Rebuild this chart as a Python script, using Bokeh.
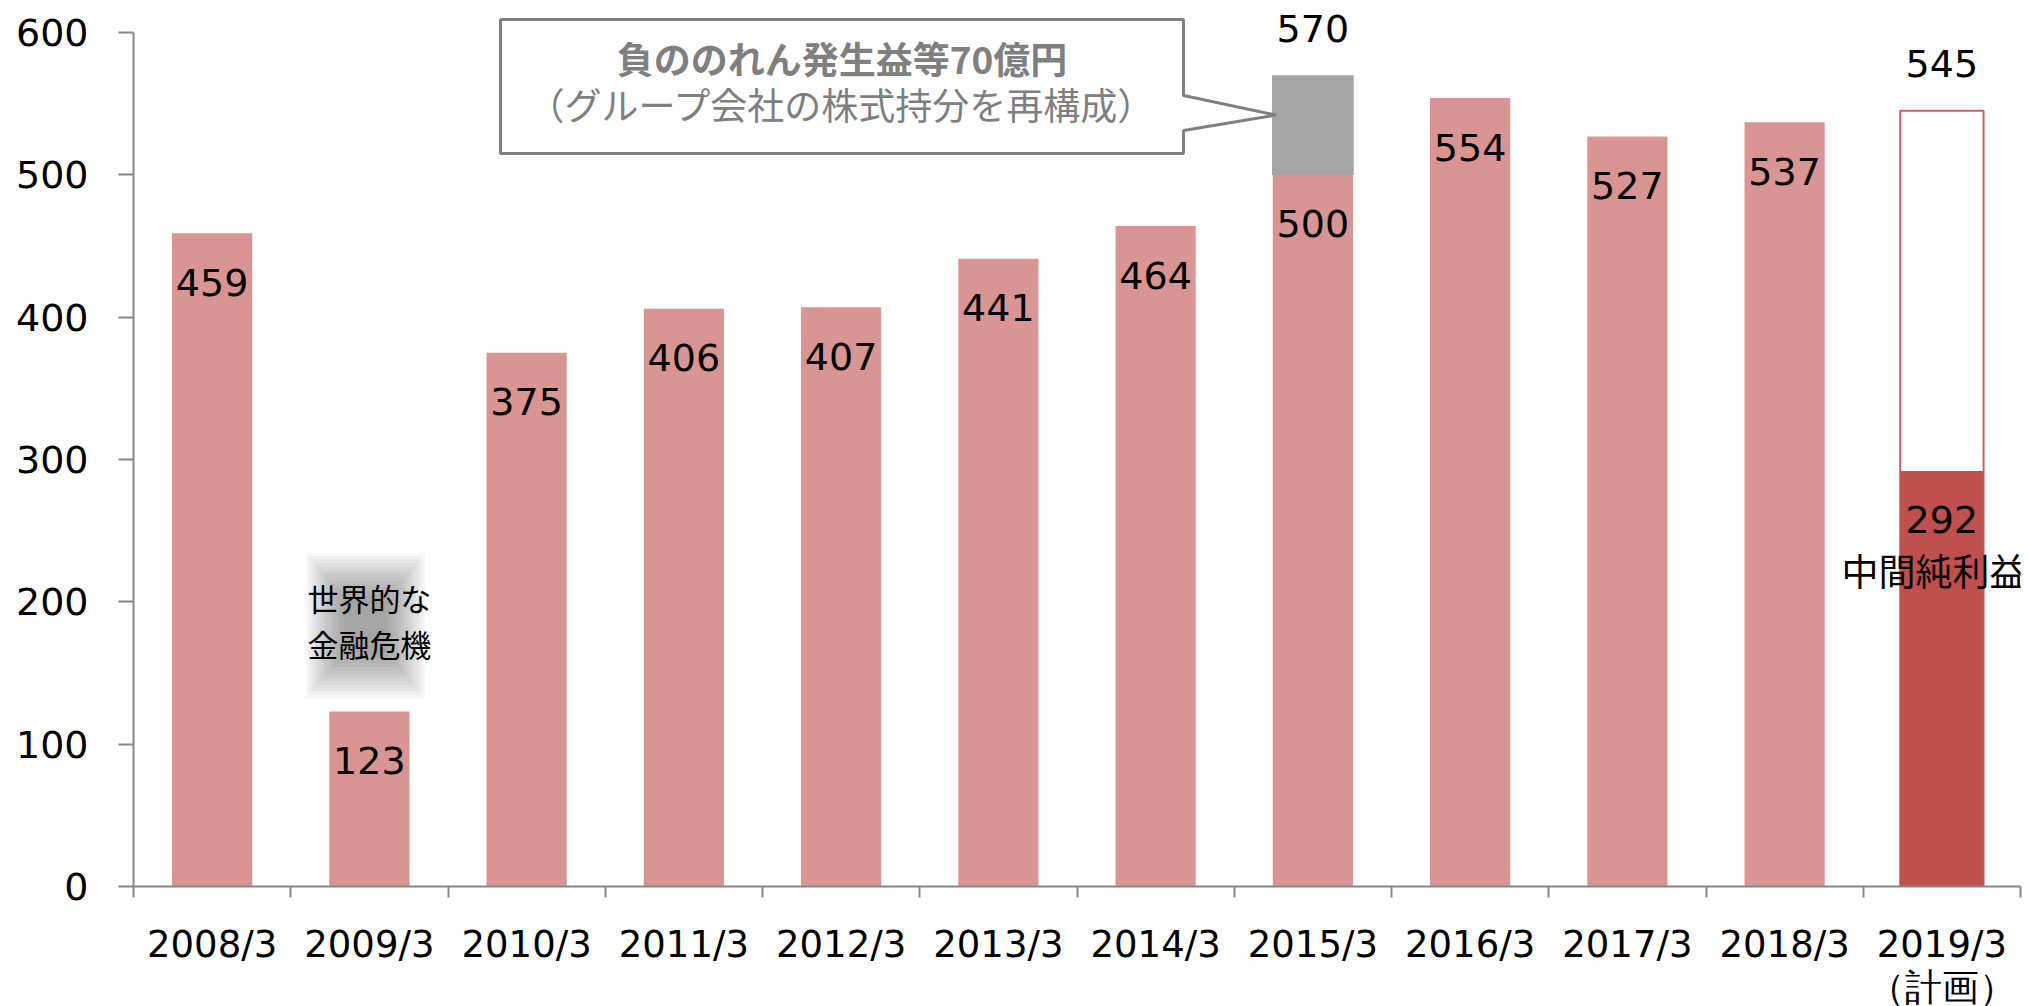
from bokeh.plotting import figure
from bokeh.models import Range1d, LinearAxis, FixedTicker, ColumnDataSource, Label
from bokeh.core.properties import value
from bokeh.embed import file_html
from bokeh.resources import INLINE

# ---- data ----
years = ["2008/3", "2009/3", "2010/3", "2011/3", "2012/3", "2013/3",
         "2014/3", "2015/3", "2016/3", "2017/3", "2018/3"]
net_income = [459, 123, 375, 406, 407, 441, 464, 500, 554, 527, 537]
goodwill_year = "2015/3"
goodwill_gain = 70
plan_label = "2019/3\n（計画）"
plan_total = 545
plan_interim = 292
y_ticks = [0, 100, 200, 300, 400, 500, 600]
unit_label = "(億円)"
crisis_lines = ["世界的な", "金融危機"]
callout_lines = ["負ののれん発生益等70億円", "（グループ会社の株式持分を再構成）"]
interim_label = "中間純利益"

all_labels = years + [plan_label]
n = len(all_labels)
centers = [i + 0.5 for i in range(n)]

PINK = "#D99594"
DARK = "#C0504D"
GREY = "#A5A5A5"
AXIS = "#868686"
NUMFONT = "DejaVu Sans"
JPFONT = "Noto Sans CJK JP"

FRAME_H = 878
Y_END = 616.9
PX_PER_UNIT = FRAME_H / Y_END

p = figure(frame_width=1887, frame_height=FRAME_H,
           x_range=Range1d(0, n), y_range=Range1d(0, Y_END),
           x_axis_type=None, y_axis_type=None,
           output_backend="svg", toolbar_location=None,
           min_border_left=133, min_border_right=8, min_border_top=8, min_border_bottom=0)
p.outline_line_color = None
p.background_fill_color = "white"
p.border_fill_color = "white"

# axes
yaxis = LinearAxis(ticker=FixedTicker(ticks=y_ticks), bounds=(0, 600))
yaxis.axis_line_color = AXIS
yaxis.axis_line_width = 2
yaxis.major_tick_line_color = AXIS
yaxis.major_tick_line_width = 2
yaxis.major_tick_out = 15
yaxis.major_tick_in = 0
yaxis.minor_tick_line_color = None
yaxis.major_label_standoff = 30
yaxis.major_label_text_font = NUMFONT
yaxis.major_label_text_font_size = "38px"
yaxis.major_label_text_color = "black"
p.add_layout(yaxis, "left")

xaxis = LinearAxis(ticker=FixedTicker(ticks=centers, minor_ticks=list(range(n + 1))),
                   major_label_overrides={c: lab for c, lab in zip(centers, all_labels)})
xaxis.axis_line_color = AXIS
xaxis.axis_line_width = 2
xaxis.major_tick_line_color = None
xaxis.major_tick_out = 0
xaxis.major_tick_in = 0
xaxis.minor_tick_line_color = AXIS
xaxis.minor_tick_line_width = 2
xaxis.minor_tick_out = 11
xaxis.minor_tick_in = 0
xaxis.major_label_standoff = 25
xaxis.major_label_text_font = NUMFONT
xaxis.major_label_text_font_size = "37px"
xaxis.major_label_text_line_height = 1.0
xaxis.major_label_text_color = "black"
xaxis.major_label_orientation = "horizontal"
p.add_layout(xaxis, "below")

# regular bars
bar_src = ColumnDataSource(dict(x=centers[:len(years)], top=net_income,
                                lab=[str(v) for v in net_income]))
p.vbar(x="x", top="top", bottom=0, width=0.51, source=bar_src,
       fill_color=PINK, line_color=None)

# one-off gain
gi = years.index(goodwill_year)
g_base = net_income[gi]
g_top = g_base + goodwill_gain
p.vbar(x=[centers[gi]], bottom=[g_base], top=[g_top], width=0.52,
       fill_color=GREY, line_color=None)

# plan bar
px = centers[-1]
p.vbar(x=[px], bottom=[0], top=[plan_total], width=0.53,
       fill_color="white", line_color="#CD5F5C", line_width=2)
p.vbar(x=[px], bottom=[0], top=[plan_interim], width=0.53,
       fill_color=DARK, line_color=None)

# value labels inside bars
p.text(x="x", y="top", text="lab", source=bar_src, y_offset=49,
       text_align="center", text_baseline="middle",
       text_font=value(NUMFONT), text_font_size="38px", text_color="black")
p.text(x=[px], y=[plan_interim], text=[str(plan_interim)], y_offset=49,
       text_align="center", text_baseline="middle",
       text_font=value(NUMFONT), text_font_size="38px", text_color="black")
p.add_layout(Label(x=px - 0.05, y=plan_interim - 99 / PX_PER_UNIT, text=interim_label,
                   text_align="center", text_baseline="middle",
                   text_font=JPFONT, text_font_size="37px", text_color="black"))

# totals above bars
p.text(x=[centers[gi], px], y=[g_top, plan_total],
       text=[str(g_top), str(plan_total)], y_offset=-47,
       text_align="center", text_baseline="middle",
       text_font=value(NUMFONT), text_font_size="38px", text_color="black")

# crisis note with soft shadow
ci = 1
for k in range(14):
    p.rect(x=[centers[ci] - 0.025], y=[183.4], width=[120 - 6 * k], height=[146 - 7 * k],
           width_units="screen", height_units="screen",
           fill_color="#505050", fill_alpha=0.045, line_color=None)
p.text(x=[centers[ci], centers[ci]], y=[203, 170.7], text=crisis_lines,
       text_align="center", text_baseline="middle",
       text_font=value(JPFONT), text_font_size="31px", text_color="black")

# callout box
bx0, bx1 = 2.334, 6.677
by0, by1 = 515.0, 609.1
tip_x = centers[gi] - 0.235
tip_y = g_base + goodwill_gain * 0.6
p.patch(x=[bx0, bx1, bx1, tip_x, bx1, bx1, bx0],
        y=[by1, by1, 555.8, tip_y, 531.2, by0, by0],
        fill_color="white", line_color="#7F7F7F", line_width=3)
cx = (bx0 + bx1) / 2
p.text(x=[cx], y=[582], text=[callout_lines[0]], text_align="center",
       text_baseline="middle", text_font=value(JPFONT), text_font_size="37px",
       text_font_style="bold", text_color="#7F7F7F")
p.text(x=[cx], y=[550.1], text=[callout_lines[1]], text_align="center",
       text_baseline="middle", text_font=value(JPFONT), text_font_size="37px",
       text_color="#7F7F7F")

# unit label
p.add_layout(Label(x=-0.477, y=559, text=unit_label, text_align="center",
                   text_baseline="middle", text_font=JPFONT,
                   text_font_size="29px", text_color="black"))

open("out.html", "w").write(file_html(p, INLINE))
